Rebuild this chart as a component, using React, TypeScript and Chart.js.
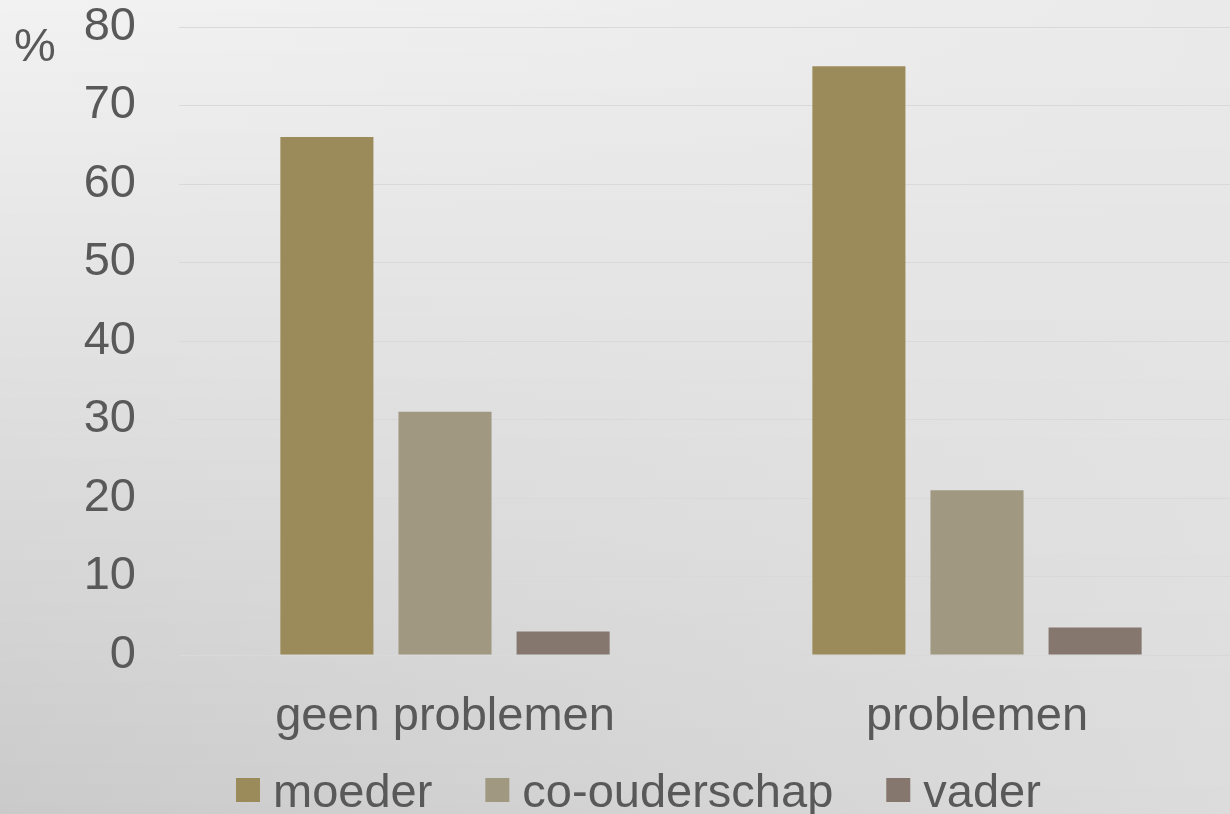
import React, { useEffect, useRef } from "react";
import { Chart, registerables } from "chart.js";

Chart.register(...registerables);

const categories = ["geen problemen", "problemen"];
const seriesNames = ["moeder", "co-ouderschap", "vader"];
const moederValues = [66, 75];
const coOuderschapValues = [31, 21];
const vaderValues = [3, 3.5];
const seriesColors = ["#9c8b5a", "#a09880", "#85776e"];
const yTicks = [0, 10, 20, 30, 40, 50, 60, 70, 80];
const unitLabel = "%";

const FONT = '"Liberation Sans", Arial, sans-serif';
const TEXT = "#595959";

const backgroundPlugin = {
  id: "bgGradient",
  beforeDraw(chart: any) {
    const { ctx, width, height } = chart;
    ctx.save();
    const lerp = (a: number, b: number, t: number) => Math.round(a + (b - a) * t);
    for (let y = 0; y < height; y += 2) {
      const t = y / height;
      const left = lerp(242, 202, t);
      const right = lerp(234, 220, t);
      const g = ctx.createLinearGradient(0, 0, width, 0);
      g.addColorStop(0, `rgb(${left},${left},${left})`);
      g.addColorStop(1, `rgb(${right},${right},${right})`);
      ctx.fillStyle = g;
      ctx.fillRect(0, y, width, 2);
    }
    ctx.restore();
  },
};

const extrasPlugin = {
  id: "extras",
  afterDraw(chart: any) {
    const { ctx } = chart;
    ctx.save();
    ctx.font = `47px ${FONT}`;
    ctx.fillStyle = TEXT;
    ctx.textBaseline = "alphabetic";
    ctx.textAlign = "left";
    ctx.fillText(unitLabel, 14, 61);

    // legend
    let x = 236;
    chart.data.datasets.forEach((ds: any) => {
      ctx.fillStyle = ds.backgroundColor;
      ctx.fillRect(x, 778, 24, 24);
      ctx.fillStyle = TEXT;
      const label = ds.label;
      ctx.fillText(label, x + 37, 807);
      const w = ctx.measureText(label).width;
      x = x + 37 + w + 53;
    });
    ctx.restore();
  },
};

export default function App() {
  const ref = useRef<HTMLCanvasElement | null>(null);
  useEffect(() => {
    if (!ref.current) return;
    const chart = new Chart(ref.current, {
      type: "bar",
      data: {
        labels: categories,
        datasets: [
          { label: seriesNames[0], data: moederValues, backgroundColor: seriesColors[0] },
          { label: seriesNames[1], data: coOuderschapValues, backgroundColor: seriesColors[1] },
          { label: seriesNames[2], data: vaderValues, backgroundColor: seriesColors[2] },
        ],
      },
      options: {
        responsive: false,
        animation: false,
        layout: { padding: { top: 0, bottom: 0, left: 0, right: 0 } },
        datasets: {
          bar: { categoryPercentage: 0.666, barPercentage: 0.788 },
        },
        plugins: {
          legend: { display: false },
          tooltip: { enabled: false },
        },
        scales: {
          x: {
            grid: { display: false },
            border: { display: false },
            ticks: { font: { size: 47, family: FONT }, color: TEXT, padding: 26 },
            afterFit(scale: any) {
              scale.height = 159;
              scale.paddingLeft = 0;
              scale.paddingRight = 0;
            },
          },
          y: {
            min: 0,
            max: 80,
            afterBuildTicks(scale: any) {
              scale.ticks = yTicks.map((v) => ({ value: v }));
            },
            grid: { color: "#d9d9d9", lineWidth: 1, drawTicks: false },
            border: { display: false },
            ticks: { font: { size: 47, family: FONT }, color: TEXT, padding: 43 },
            afterFit(scale: any) {
              scale.width = 179;
              scale.paddingTop = 27;
              scale.paddingBottom = 0;
            },
          },
        },
      },
      plugins: [backgroundPlugin, extrasPlugin],
    } as any);
    return () => chart.destroy();
  }, []);

  return (
    <div
      style={{
        position: "fixed",
        left: 0,
        top: 0,
        width: 1230,
        height: 814,
        overflow: "hidden",
      }}
    >
      <canvas ref={ref} width={1243} height={814} style={{ display: "block" }} />
    </div>
  );
}
